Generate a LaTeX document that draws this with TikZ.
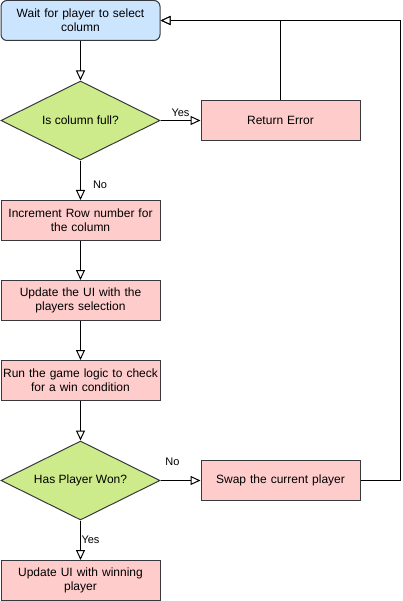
\documentclass[tikz,border=0pt]{standalone}
\usepackage{fontspec}
\setmainfont{Liberation Sans}
\usetikzlibrary{shapes.geometric,arrows.meta}
\definecolor{bluefill}{HTML}{CCE5FF}
\definecolor{greenfill}{HTML}{CDEB8B}
\definecolor{pinkfill}{HTML}{FFCCCC}
\definecolor{strokec}{HTML}{36393D}
\begin{document}
\begin{tikzpicture}[x=1pt,y=-1pt,
  every node/.style={font=\fontsize{12}{14}\selectfont, inner sep=0pt},
  proc/.style={draw=strokec, line width=1pt, fill=pinkfill, minimum width=159pt, minimum height=40pt, align=center, text width=155pt},
  startbox/.style={proc, fill=bluefill, rounded corners=6pt},
  decision/.style={draw=strokec, line width=1pt, fill=greenfill, diamond, minimum width=159pt, minimum height=79pt, aspect=2, inner sep=0pt},
  lbl/.style={font=\fontsize{11}{13}\selectfont},
  conn/.style={line width=1pt, -{Triangle[open, length=10pt, width=9pt, fill=white]}}
]
\useasboundingbox (0,0) rectangle (403,601);
\node[startbox] (start) at (80.5,20.5) {Wait for player to select\\column};
\node[decision] (d1) at (80.5,120.5) {Is column full?};
\node[proc] (err) at (280.5,120.5) {Return Error};
\node[proc] (inc) at (80.5,220.5) {Increment Row number for\\the column};
\node[proc] (ui) at (80.5,300.5) {Update the UI with the\\players selection};
\node[proc] (run) at (80.5,380.5) {Run the game logic to check\\for a win condition};
\node[decision] (d2) at (80.5,480.5) {Has Player Won?};
\node[proc] (swap) at (280.5,480.5) {Swap the current player};
\node[proc] (win) at (80.5,580.5) {Update UI with winning\\player};
\coordinate (c1) at (280.5,20.5);
\coordinate (c2) at (400.5,480.5);
\coordinate (c3) at (400.5,20.5);

\draw[conn] (start) -- (d1);
\draw[conn] (d1) -- (err) node[lbl, pos=0.5, above, yshift=3pt] {Yes};
\draw[conn] (err.north) -- (c1) -- (start.east);
\draw[conn] (d1) -- (inc) node[lbl, pos=0.62, right, xshift=12pt] {No};
\draw[conn] (inc) -- (ui);
\draw[conn] (ui) -- (run);
\draw[conn] (run) -- (d2);
\draw[conn] (d2) -- (swap) node[lbl, pos=0.3, above, yshift=14pt] {No};
\draw[conn] (swap) -- (c2) -- (c3) -- (start.east);
\draw[conn] (d2) -- (win) node[lbl, pos=0.5, right, xshift=0.5pt] {Yes};
\end{tikzpicture}
\end{document}
